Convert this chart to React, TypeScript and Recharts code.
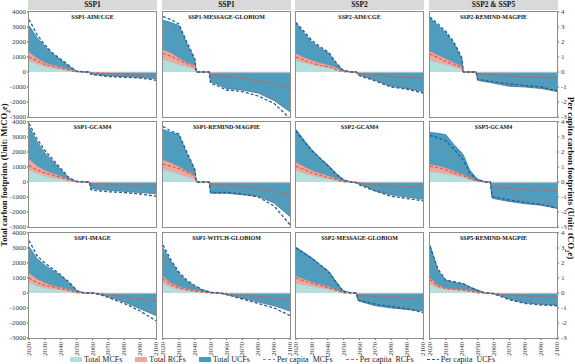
// Carbon footprint pathways: 12 scenario panels, totals as areas, per capita as dashed lines
import React from "react";
import { ComposedChart, Area, Line, XAxis, YAxis } from "recharts";

const YEARS = [2020, 2025, 2030, 2035, 2040, 2041, 2045, 2049, 2050, 2055, 2058, 2059, 2060, 2065, 2070, 2080, 2090, 2100];
const YEAR_TICKS = [2020, 2030, 2040, 2050, 2060, 2070, 2080, 2090, 2100];
const TOTAL_TICKS = [-3000, -2000, -1000, 0, 1000, 2000, 3000, 4000];
const PC_TICKS = [-3, -2, -1, 0, 1, 2, 3, 4];

const COLUMN_HEADERS = ["SSP1", "SSP1", "SSP2", "SSP2 & SSP5"];
const PANEL_TITLES = [
  "SSP1-AIM/CGE", "SSP1-MESSAGE-GLOBIOM", "SSP2-AIM/CGE", "SSP2-REMIND-MAGPIE",
  "SSP1-GCAM4", "SSP1-REMIND-MAGPIE", "SSP2-GCAM4", "SSP5-GCAM4",
  "SSP1-IMAGE", "SSP1-WITCH-GLOBIOM", "SSP2-MESSAGE-GLOBIOM", "SSP5-REMIND-MAGPIE",
];

// Total UCFs (MtCO2e), one row per panel
const UCF_TOTAL = [
  [3100, 2300, 1700, 1200, 800, 730, 400, 120, 60, 0, 0, -120, -150, -200, -250, -300, -350, -450],
  [3450, 3300, 3100, 1900, 800, 0, 0, 0, -650, -850, -1000, -1050, -1100, -1150, -1200, -1400, -1900, -2650],
  [3250, 2600, 2000, 1600, 1300, 1200, 600, 180, 100, 0, 0, -150, -200, -380, -550, -950, -1100, -1300],
  [3600, 3100, 2600, 1900, 900, 0, 0, 0, -550, -650, -700, -720, -750, -850, -950, -1000, -1100, -1300],
  [3700, 2700, 1930, 1380, 820, 720, 270, 60, 30, 0, 0, -400, -450, -500, -550, -620, -700, -780],
  [3500, 3300, 3150, 1900, 800, 0, 0, 0, -750, -750, -750, -750, -750, -800, -850, -950, -1400, -2300],
  [3500, 2800, 2150, 1600, 1150, 1050, 600, 250, 150, 0, -50, -100, -150, -350, -600, -850, -1000, -1150],
  [3300, 3250, 3150, 2500, 1950, 1800, 800, 300, 200, 0, 0, -1050, -1100, -1200, -1300, -1450, -1550, -1750],
  [3100, 2300, 1850, 1500, 1150, 1060, 700, 300, 150, 0, 0, 0, 0, -100, -250, -600, -1050, -1500],
  [3000, 2100, 1300, 800, 450, 400, 200, 80, 50, 0, -50, -70, -100, -220, -350, -600, -850, -1200],
  [3050, 2700, 2350, 1900, 1500, 1400, 800, 250, 150, 0, 0, -500, -550, -700, -850, -1000, -1100, -1200],
  [3200, 1500, 850, 700, 620, 600, 400, 250, 200, 0, -20, -30, -50, -200, -400, -650, -750, -800],
];

// Total RCFs (MtCO2e)
const RCF_TOTAL = [
  [1300, 900, 600, 420, 300, 280, 150, 40, 20, 0, 0, -30, -30, -30, -30, -30, -30, -30],
  [1450, 1250, 900, 600, 420, 0, 0, 0, -50, -50, -50, -50, -50, -50, -50, -50, -50, -50],
  [1200, 950, 750, 580, 450, 430, 250, 60, 40, 0, 0, -30, -30, -30, -30, -30, -30, -30],
  [1350, 1100, 850, 600, 350, 0, 0, 0, -40, -40, -40, -40, -40, -40, -40, -40, -40, -40],
  [1500, 1050, 750, 550, 350, 320, 150, 30, 10, 0, 0, -30, -30, -30, -30, -30, -30, -30],
  [1450, 1250, 1000, 700, 450, 0, 0, 0, -50, -50, -50, -50, -50, -50, -50, -50, -50, -50],
  [1300, 1000, 750, 550, 400, 370, 200, 70, 50, 0, 0, -30, -30, -30, -30, -30, -30, -30],
  [1150, 1050, 900, 700, 500, 470, 250, 80, 50, 0, 0, -50, -50, -50, -50, -50, -50, -50],
  [1300, 900, 650, 450, 350, 330, 200, 80, 50, 0, 0, 0, 0, -30, -30, -30, -30, -30],
  [1100, 650, 400, 250, 150, 140, 50, 10, 0, 0, 0, -20, -20, -20, -20, -20, -20, -20],
  [1100, 900, 700, 550, 400, 380, 200, 60, 50, 0, 0, -40, -40, -40, -40, -40, -40, -40],
  [1000, 500, 300, 250, 220, 210, 150, 60, 50, 0, 0, -30, -30, -30, -30, -30, -30, -30],
];

// Total MCFs (MtCO2e)
const MCF_TOTAL = [
  [700, 500, 330, 220, 150, 140, 80, 20, 10, 0, 0, 0, 0, 0, 0, 0, 0, 0],
  [800, 650, 470, 320, 180, 0, 0, 0, 0, 0, 0, 0, 0, 0, 0, 0, 0, 0],
  [750, 580, 450, 340, 250, 240, 130, 30, 15, 0, 0, 0, 0, 0, 0, 0, 0, 0],
  [750, 600, 450, 300, 150, 0, 0, 0, 0, 0, 0, 0, 0, 0, 0, 0, 0, 0],
  [750, 550, 350, 250, 150, 140, 50, 10, 0, 0, 0, 0, 0, 0, 0, 0, 0, 0],
  [800, 650, 500, 300, 150, 0, 0, 0, 0, 0, 0, 0, 0, 0, 0, 0, 0, 0],
  [750, 550, 400, 280, 180, 170, 80, 20, 0, 0, 0, 0, 0, 0, 0, 0, 0, 0],
  [650, 600, 500, 400, 300, 290, 150, 40, 20, 0, 0, 0, 0, 0, 0, 0, 0, 0],
  [650, 450, 300, 220, 150, 140, 80, 20, 0, 0, 0, 0, 0, 0, 0, 0, 0, 0],
  [600, 350, 200, 120, 60, 55, 20, 5, 0, 0, 0, 0, 0, 0, 0, 0, 0, 0],
  [600, 500, 400, 300, 200, 190, 100, 20, 0, 0, 0, 0, 0, 0, 0, 0, 0, 0],
  [550, 300, 200, 150, 120, 115, 80, 20, 0, 0, 0, 0, 0, 0, 0, 0, 0, 0],
];

// Per capita UCFs (tCO2e)
const UCF_PC = [
  [3.5, 2.5, 1.8, 1.25, 0.85, 0.78, 0.45, 0.12, 0.06, 0, 0, -0.15, -0.18, -0.24, -0.3, -0.35, -0.4, -0.55],
  [3.7, 3.5, 3.2, 2.0, 0.9, 0, 0, 0, -0.75, -0.95, -1.1, -1.15, -1.2, -1.25, -1.3, -1.6, -2.1, -3.1],
  [3.3, 2.7, 2.1, 1.7, 1.35, 1.25, 0.65, 0.18, 0.1, 0, 0, -0.2, -0.25, -0.42, -0.6, -1.0, -1.15, -1.4],
  [3.65, 3.2, 2.7, 2.0, 0.95, 0, 0, 0, -0.5, -0.58, -0.62, -0.64, -0.65, -0.72, -0.8, -0.9, -1.0, -1.25],
  [3.9, 2.9, 2.1, 1.5, 0.9, 0.8, 0.3, 0.08, 0.05, 0, 0, -0.5, -0.55, -0.6, -0.65, -0.7, -0.8, -0.95],
  [3.7, 3.4, 3.2, 2.0, 0.85, 0, 0, 0, -0.7, -0.7, -0.7, -0.7, -0.7, -0.75, -0.8, -1.0, -1.6, -2.85],
  [3.4, 2.7, 2.1, 1.6, 1.1, 1.0, 0.55, 0.2, 0.1, 0, -0.05, -0.15, -0.2, -0.4, -0.6, -0.95, -1.1, -1.25],
  [3.1, 2.95, 2.75, 2.2, 1.6, 1.45, 0.6, 0.2, 0.15, 0, 0, -0.9, -1.0, -1.1, -1.2, -1.35, -1.5, -1.75],
  [3.5, 2.5, 2.0, 1.6, 1.2, 1.1, 0.75, 0.3, 0.15, 0, 0, 0, 0, -0.12, -0.3, -0.7, -1.2, -1.85],
  [3.2, 2.2, 1.4, 0.85, 0.5, 0.45, 0.2, 0.08, 0.05, 0, -0.05, -0.08, -0.1, -0.25, -0.4, -0.7, -1.0, -1.5],
  [3.0, 2.65, 2.3, 1.9, 1.45, 1.35, 0.75, 0.2, 0.1, 0, 0, -0.45, -0.5, -0.62, -0.75, -0.9, -1.05, -1.3],
  [3.1, 1.6, 0.85, 0.75, 0.65, 0.62, 0.4, 0.2, 0.15, 0, -0.02, -0.04, -0.05, -0.25, -0.45, -0.7, -0.8, -0.85],
];

// Per capita RCFs (tCO2e)
const RCF_PC = [
  [1.0, 0.75, 0.5, 0.35, 0.25, 0.23, 0.12, 0.03, 0.02, 0, 0, -0.05, -0.05, -0.08, -0.1, -0.15, -0.2, -0.25],
  [1.25, 1.05, 0.8, 0.55, 0.35, 0, 0, 0, -0.2, -0.25, -0.28, -0.29, -0.3, -0.38, -0.45, -0.6, -0.8, -1.1],
  [1.0, 0.8, 0.6, 0.45, 0.35, 0.33, 0.15, 0.04, 0.02, 0, 0, -0.08, -0.1, -0.15, -0.2, -0.3, -0.35, -0.45],
  [1.2, 0.95, 0.7, 0.5, 0.3, 0, 0, 0, -0.1, -0.15, -0.18, -0.19, -0.2, -0.24, -0.28, -0.32, -0.38, -0.42],
  [1.1, 0.8, 0.6, 0.45, 0.3, 0.28, 0.12, 0.02, 0, 0, 0, -0.1, -0.12, -0.14, -0.15, -0.2, -0.25, -0.3],
  [1.2, 1.05, 0.9, 0.65, 0.4, 0, 0, 0, -0.15, -0.17, -0.18, -0.19, -0.2, -0.25, -0.3, -0.45, -0.65, -0.9],
  [1.05, 0.85, 0.6, 0.45, 0.3, 0.28, 0.15, 0.03, 0, 0, -0.02, -0.04, -0.05, -0.12, -0.2, -0.28, -0.32, -0.38],
  [1.05, 0.95, 0.8, 0.6, 0.45, 0.42, 0.2, 0.07, 0.05, 0, 0, -0.3, -0.35, -0.38, -0.42, -0.5, -0.55, -0.62],
  [1.0, 0.7, 0.5, 0.4, 0.3, 0.28, 0.15, 0.05, 0, 0, 0, 0, 0, -0.05, -0.1, -0.25, -0.4, -0.55],
  [0.95, 0.55, 0.35, 0.22, 0.12, 0.11, 0.05, 0.01, 0, 0, -0.02, -0.03, -0.04, -0.1, -0.15, -0.25, -0.35, -0.5],
  [1.0, 0.8, 0.65, 0.5, 0.35, 0.33, 0.2, 0.05, 0, 0, 0, -0.15, -0.17, -0.21, -0.25, -0.3, -0.35, -0.4],
  [0.9, 0.45, 0.3, 0.25, 0.2, 0.19, 0.12, 0.04, 0, 0, 0, -0.01, -0.02, -0.08, -0.15, -0.2, -0.25, -0.28],
];

// Per capita MCFs (tCO2e)
const MCF_PC = [
  [2.7, 2.0, 1.45, 1.0, 0.7, 0.65, 0.35, 0.08, 0.04, 0, 0, -0.1, -0.12, -0.18, -0.22, -0.28, -0.33, -0.45],
  [2.9, 2.7, 2.35, 1.5, 0.7, 0, 0, 0, -0.4, -0.55, -0.65, -0.68, -0.7, -0.85, -1.0, -1.3, -1.8, -2.5],
  [2.7, 2.2, 1.7, 1.35, 1.0, 0.95, 0.5, 0.12, 0.05, 0, 0, -0.15, -0.2, -0.32, -0.45, -0.75, -0.9, -1.1],
  [3.0, 2.6, 2.1, 1.5, 0.7, 0, 0, 0, -0.3, -0.4, -0.45, -0.48, -0.5, -0.58, -0.65, -0.8, -0.9, -1.1],
  [3.5, 2.5, 1.8, 1.3, 0.75, 0.68, 0.25, 0.05, 0, 0, 0, -0.3, -0.35, -0.38, -0.4, -0.5, -0.6, -0.8],
  [3.0, 2.8, 2.5, 1.6, 0.7, 0, 0, 0, -0.3, -0.36, -0.4, -0.42, -0.45, -0.52, -0.6, -0.8, -1.2, -1.9],
  [2.8, 2.2, 1.7, 1.3, 0.9, 0.82, 0.45, 0.12, 0.05, 0, -0.03, -0.08, -0.1, -0.28, -0.45, -0.75, -0.9, -1.0],
  [2.5, 2.4, 2.2, 1.7, 1.2, 1.1, 0.45, 0.15, 0.1, 0, 0, -0.6, -0.75, -0.85, -0.95, -1.1, -1.25, -1.45],
  [2.8, 2.1, 1.7, 1.35, 1.0, 0.93, 0.6, 0.25, 0.1, 0, 0, 0, 0, -0.08, -0.2, -0.5, -0.85, -1.3],
  [2.6, 1.8, 1.1, 0.7, 0.4, 0.37, 0.15, 0.05, 0.03, 0, -0.04, -0.06, -0.08, -0.2, -0.32, -0.55, -0.8, -1.2],
  [2.5, 2.2, 1.9, 1.6, 1.2, 1.1, 0.65, 0.15, 0.05, 0, 0, -0.3, -0.35, -0.45, -0.55, -0.7, -0.85, -1.0],
  [2.5, 1.3, 0.75, 0.6, 0.5, 0.48, 0.3, 0.15, 0.1, 0, -0.01, -0.03, -0.04, -0.2, -0.35, -0.55, -0.65, -0.7],
];

const LEGEND_ITEMS = [
  { label: "Total MCFs", kind: "fill", color: "#b3dfdd" },
  { label: "Total RCFs", kind: "fill", color: "#efa7a1" },
  { label: "Total UCFs", kind: "fill", color: "#4a9bbd" },
  { label: "Per capita  MCFs", kind: "dash", color: "#8c8c8c" },
  { label: "Per capita  RCFs", kind: "dash", color: "#e8553f" },
  { label: "Per capita  UCFs", kind: "dash", color: "#1f5f9a" },
];

const FONT = "'Liberation Serif', 'DejaVu Serif', serif";
const PLOT_W = 127;
const PLOT_H = 105;
const COL_X = [29, 163, 296, 430];
const ROW_Y = [12, 122, 233];
const PAD = 6; // room round the plot so end tick labels are not clipped

const tickStyle = { fontSize: 7, fontFamily: FONT, fill: "#3a3a3a" };

function YearTick(props: any) {
  const { x, y, payload } = props;
  return (
    <text
      x={x}
      y={y}
      transform={`rotate(-90 ${x} ${y})`}
      textAnchor="end"
      dominantBaseline="central"
      fontSize={7}
      fontFamily={FONT}
      fill="#3a3a3a"
    >
      {payload.value}
    </text>
  );
}

function Panel({ idx }: { idx: number }) {
  const col = idx % 4;
  const row = Math.floor(idx / 4);
  const showLeft = col === 0;
  const showRight = col === 3;
  const showBottom = row === 2;
  const lw = showLeft ? 27 : 0;
  const rw = showRight ? 14 : 0;
  const bh = showBottom ? 22 : 0;
  const w = PLOT_W + lw + rw + PAD * 2;
  const h = PLOT_H + bh + PAD * 2;

  const data = YEARS.map((year, i) => ({
    year,
    ucf: UCF_TOTAL[idx][i],
    rcf: RCF_TOTAL[idx][i],
    mcf: MCF_TOTAL[idx][i],
    ucfPc: UCF_PC[idx][i],
    rcfPc: RCF_PC[idx][i],
    mcfPc: MCF_PC[idx][i],
  }));

  return (
    <>
      <div style={{ position: "absolute", left: COL_X[col] - lw - PAD, top: ROW_Y[row] - PAD, width: w, height: h }}>
        <ComposedChart width={w} height={h} data={data} margin={{ top: PAD, right: PAD, bottom: PAD, left: PAD }}>
          <XAxis
            dataKey="year"
            type="number"
            domain={[2020, 2100]}
            ticks={YEAR_TICKS}
            allowDataOverflow
            hide={!showBottom}
            height={bh}
            axisLine={false}
            tickSize={2}
            tickLine={{ stroke: "#555" }}
            tick={<YearTick />}
            interval={0}
          />
          <YAxis
            yAxisId="tot"
            domain={[-3000, 4000]}
            ticks={TOTAL_TICKS}
            allowDataOverflow
            hide={!showLeft}
            width={lw}
            axisLine={false}
            tickSize={2}
            tickMargin={1}
            tickLine={{ stroke: "#555" }}
            tick={tickStyle}
            interval={0}
          />
          <YAxis
            yAxisId="pc"
            orientation="right"
            domain={[-3, 4]}
            ticks={PC_TICKS}
            allowDataOverflow
            hide={!showRight}
            width={rw}
            axisLine={false}
            tickSize={2}
            tickMargin={2}
            tickLine={{ stroke: "#555" }}
            tick={tickStyle}
            interval={0}
          />
          <Area yAxisId="tot" type="linear" dataKey="ucf" baseValue={0} fill="#4d9dbf" fillOpacity={1} stroke="#2b78aa" strokeWidth={0.8} isAnimationActive={false} dot={false} activeDot={false} />
          <Area yAxisId="tot" type="linear" dataKey="rcf" baseValue={0} fill="#efa7a1" fillOpacity={1} stroke="#efa7a1" strokeWidth={0.6} isAnimationActive={false} dot={false} activeDot={false} />
          <Area yAxisId="tot" type="linear" dataKey="mcf" baseValue={0} fill="#b3dfdd" fillOpacity={1} stroke="#b3dfdd" strokeWidth={0.6} isAnimationActive={false} dot={false} activeDot={false} />
          <Line yAxisId="pc" type="linear" dataKey="mcfPc" stroke="#8c8c8c" strokeWidth={1} strokeDasharray="3 2" dot={false} activeDot={false} isAnimationActive={false} />
          <Line yAxisId="pc" type="linear" dataKey="rcfPc" stroke="#e8553f" strokeWidth={1.2} strokeDasharray="3 2" dot={false} activeDot={false} isAnimationActive={false} />
          <Line yAxisId="pc" type="linear" dataKey="ucfPc" stroke="#1f5f9a" strokeWidth={1.3} strokeDasharray="3 2" dot={false} activeDot={false} isAnimationActive={false} />
        </ComposedChart>
      </div>
      <div
        style={{
          position: "absolute",
          left: COL_X[col] - 1,
          top: ROW_Y[row] - 1,
          width: PLOT_W + 2,
          height: PLOT_H + 2,
          boxSizing: "border-box",
          border: "1.3px solid #8e8e8e",
          pointerEvents: "none",
        }}
      />
      <div
        style={{
          position: "absolute",
          left: COL_X[col],
          top: ROW_Y[row] + 2,
          width: PLOT_W,
          textAlign: "center",
          fontFamily: FONT,
          fontWeight: "bold",
          fontSize: 6,
          lineHeight: "7px",
          color: "#111",
        }}
      >
        {PANEL_TITLES[idx]}
      </div>
    </>
  );
}

export default function App() {
  return (
    <div style={{ position: "absolute", left: 0, top: 0, width: 575, height: 364, background: "#fff", overflow: "hidden" }}>
      {COLUMN_HEADERS.map((hd, c) => (
        <div
          key={c}
          style={{
            position: "absolute",
            left: COL_X[c] - 1,
            top: 0,
            width: PLOT_W + 2,
            height: 10,
            background: "#d9d9d9",
            textAlign: "center",
            fontFamily: FONT,
            fontWeight: "bold",
            fontSize: 7.5,
            lineHeight: "10px",
            color: "#111",
          }}
        >
          {hd}
        </div>
      ))}
      {PANEL_TITLES.map((_, i) => (
        <Panel key={i} idx={i} />
      ))}
      <div
        style={{
          position: "absolute",
          left: 5,
          top: 175,
          transform: "translate(-50%, -50%) rotate(-90deg)",
          whiteSpace: "nowrap",
          fontFamily: FONT,
          fontWeight: "bold",
          fontSize: 8.5,
          color: "#111",
        }}
      >
        Total carbon footprints (Unit: MtCO<sub style={{ fontSize: 6 }}>2</sub>e)
      </div>
      <div
        style={{
          position: "absolute",
          left: 570,
          top: 178,
          transform: "translate(-50%, -50%) rotate(90deg)",
          whiteSpace: "nowrap",
          fontFamily: FONT,
          fontWeight: "bold",
          fontSize: 9,
          color: "#111",
        }}
      >
        Per capita carbon footprints (Unit: tCO<sub style={{ fontSize: 6 }}>2</sub>e)
      </div>
      <div style={{ position: "absolute", left: 70, top: 355, display: "flex", alignItems: "center", fontFamily: FONT, fontSize: 8, color: "#222" }}>
        {LEGEND_ITEMS.map((it) => (
          <div key={it.label} style={{ display: "flex", alignItems: "center", marginRight: 13, whiteSpace: "pre" }}>
            {it.kind === "fill" ? (
              <div style={{ width: 12, height: 5, background: it.color, marginRight: 2 }} />
            ) : (
              <svg width={12} height={5} style={{ marginRight: 2 }}>
                <line x1={0} y1={2.5} x2={12} y2={2.5} stroke={it.color} strokeWidth={1.2} strokeDasharray="3 2" />
              </svg>
            )}
            <span>{it.label}</span>
          </div>
        ))}
      </div>
    </div>
  );
}
